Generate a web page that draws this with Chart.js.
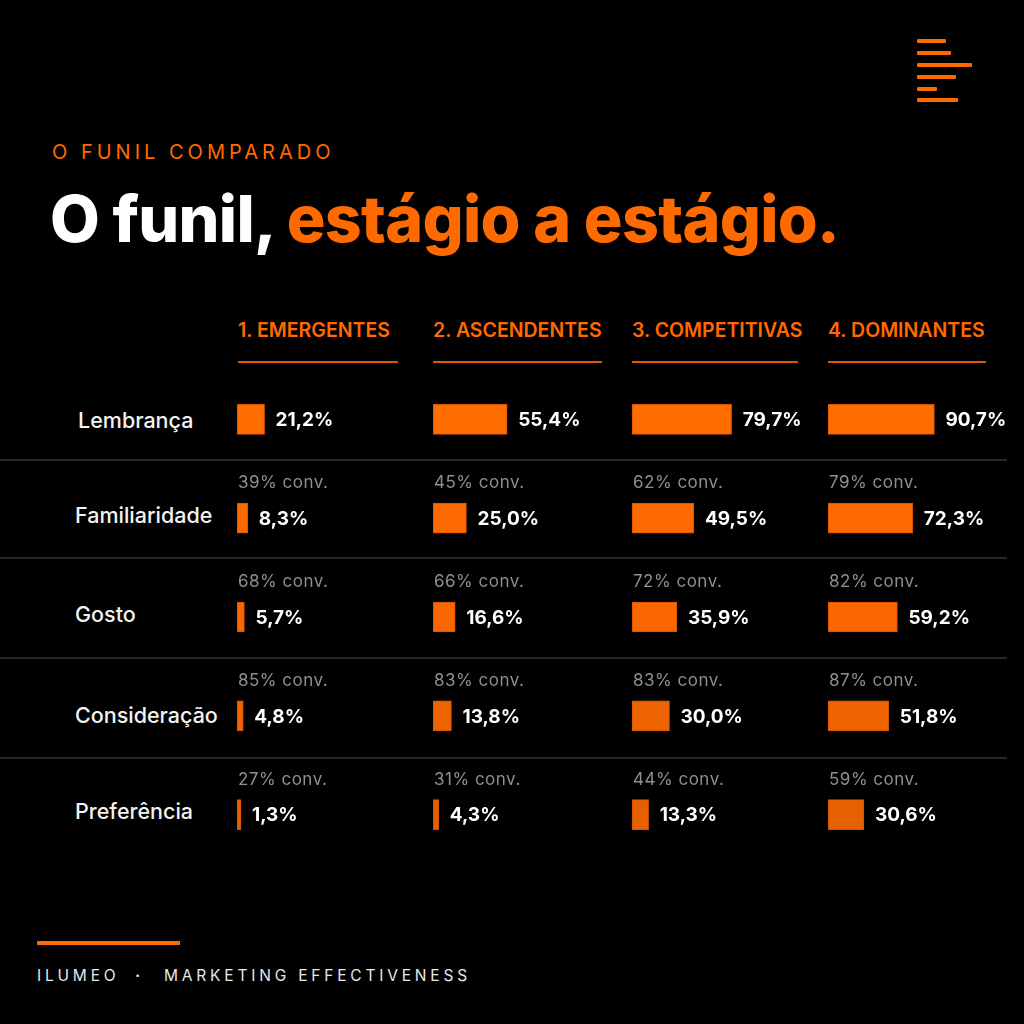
<!DOCTYPE html>
<html><head><meta charset="utf-8">
<script src="https://cdn.jsdelivr.net/npm/chart.js@4.4.1/dist/chart.umd.min.js"></script>
<style>
html,body{margin:0;padding:0;background:#000;}
#page{position:relative;width:1024px;height:1024px;background:#000;overflow:hidden;font-family:Inter,'Noto Sans',sans-serif;}
.abs{position:absolute;white-space:nowrap;}
.logo{position:absolute;left:917px;height:4px;background:#ff6a00;border-radius:1px;}
.hdr{font-weight:600;font-size:19.5px;color:#ff6a00;line-height:24px;}
.uline{height:2px;background:#d95a00;}
.sep{left:0;width:1007px;height:2px;background:#262626;}
.row{font-size:21.5px;font-weight:500;color:#f2f2f2;line-height:26px;left:75px;}
.col{position:absolute;top:370px;height:494px;width:190px;}
.foot{top:965px;font-size:15.5px;line-height:22px;letter-spacing:3.8px;color:#e8e8e8;}
</style></head>
<body><div id="page">
  <div class="logo" style="top:39px;width:29px"></div>
  <div class="logo" style="top:51px;width:34px"></div>
  <div class="logo" style="top:63px;width:55px"></div>
  <div class="logo" style="top:75px;width:39px"></div>
  <div class="logo" style="top:87px;width:20px"></div>
  <div class="logo" style="top:98px;width:41px"></div>

  <div class="abs" style="left:52px;top:140px;font-size:20px;line-height:24px;letter-spacing:4px;color:#ff6a00;font-weight:400;">O FUNIL COMPARADO</div>
  <div class="abs" style="left:50px;top:183px;font-size:64.5px;line-height:72px;font-weight:800;letter-spacing:-0.7px;color:#fff;">O funil, <span style="color:#ff6a00">estágio a estágio.</span></div>

  <div id="headers"></div>
  <div id="rows"></div>

  <div class="abs sep" style="top:459px"></div>
  <div class="abs sep" style="top:557px"></div>
  <div class="abs sep" style="top:657px"></div>
  <div class="abs sep" style="top:757px"></div>

  <div class="col" style="left:237px"><canvas id="c0"></canvas></div>
  <div class="col" style="left:433px"><canvas id="c1"></canvas></div>
  <div class="col" style="left:632px"><canvas id="c2"></canvas></div>
  <div class="col" style="left:828px"><canvas id="c3"></canvas></div>

  <div class="abs" style="left:37px;top:941px;width:143px;height:4px;background:#ff6a00;"></div>
  <div class="abs foot" style="left:37px;">ILUMEO</div>
  <div class="abs foot" style="left:135px;font-weight:700;">·</div>
  <div class="abs foot" style="left:164px;">MARKETING EFFECTIVENESS</div>
</div>
<script>
// ---- data ----
const stages = ['Lembrança','Familiaridade','Gosto','Consideração','Preferência'];
const groups = ['1. EMERGENTES','2. ASCENDENTES','3. COMPETITIVAS','4. DOMINANTES'];
const emergentes   = [21.2, 8.3, 5.7, 4.8, 1.3];
const ascendentes  = [55.4, 25.0, 16.6, 13.8, 4.3];
const competitivas = [79.7, 49.5, 35.9, 30.0, 13.3];
const dominantes   = [90.7, 72.3, 59.2, 51.8, 30.6];
const convEmergentes   = [null, 39, 68, 85, 27];
const convAscendentes  = [null, 45, 66, 83, 31];
const convCompetitivas = [null, 62, 72, 83, 44];
const convDominantes   = [null, 79, 82, 87, 59];

// ---- layout / style ----
const colLeft = [238, 433, 632, 828];
const colLineW = [160, 169, 166, 158];
const rowY = [421, 516, 615, 716, 812];
const scaleMax = [146, 142, 152, 162];
const rowColors = ['#ff6c00','#ff6a00','#fa6700','#ef6300','#e65f00'];

const series = [emergentes, ascendentes, competitivas, dominantes];
const convs = [convEmergentes, convAscendentes, convCompetitivas, convDominantes];

const hdr = document.getElementById('headers');
groups.forEach((g,i)=>{
  const d = document.createElement('div');
  d.className='abs hdr'; d.style.left=colLeft[i]+'px'; d.style.top='318px'; d.textContent=g; hdr.appendChild(d);
  const u = document.createElement('div');
  u.className='abs uline'; u.style.left=colLeft[i]+'px'; u.style.top='361px'; u.style.width=colLineW[i]+'px'; hdr.appendChild(u);
});
const rows = document.getElementById('rows');
stages.forEach((s,i)=>{
  const d = document.createElement('div');
  d.className='abs row'; d.style.top=(rowY[i]-14)+'px'; d.textContent=s;
  if(i===0) d.style.left='78px';
  rows.appendChild(d);
});

const fmt = v => v.toFixed(1).replace('.', ',') + '%';

const labelPlugin = {
  id:'labels',
  afterDatasetsDraw(chart, args, opts){
    const ctx = chart.ctx;
    const meta = chart.getDatasetMeta(0);
    const vals = chart.data.datasets[0].data;
    const conv = opts.conv;
    ctx.save();
    ctx.textBaseline = 'middle';
    meta.data.forEach((bar, i)=>{
      const p = bar.getProps(['x','y','base'], true);
      ctx.font = '700 19px Inter, "Noto Sans", sans-serif';
      ctx.fillStyle = '#ffffff';
      ctx.textAlign = 'left';
      ctx.letterSpacing = '0px';
      ctx.fillText(fmt(vals[i]), p.x + 11, p.y + 1);
      if (conv[i] != null) {
        ctx.font = '400 17px Inter, "Noto Sans", sans-serif';
        ctx.letterSpacing = '0.5px';
        ctx.fillStyle = '#8f8f8f';
        ctx.fillText(conv[i] + '% conv.', p.base + 1, p.y - 35);
      }
    });
    ctx.restore();
  }
};

series.forEach((vals, c)=>{
  new Chart(document.getElementById('c'+c), {
    type:'bar',
    data:{
      labels: stages,
      datasets:[{
        data: vals,
        backgroundColor: rowColors,
        borderColor: '#d45200',
        borderWidth: 1,
        borderSkipped: false,
        barThickness: 30,
        minBarLength: 4
      }]
    },
    options:{
      indexAxis:'y',
      responsive:true,
      maintainAspectRatio:false,
      animation:false,
      layout:{padding:0},
      scales:{
        x:{display:false, min:0, max:scaleMax[c]},
        y:{display:false}
      },
      plugins:{
        legend:{display:false},
        tooltip:{enabled:false},
        labels:{conv: convs[c]}
      }
    },
    plugins:[labelPlugin]
  });
});
</script>
</body></html>
